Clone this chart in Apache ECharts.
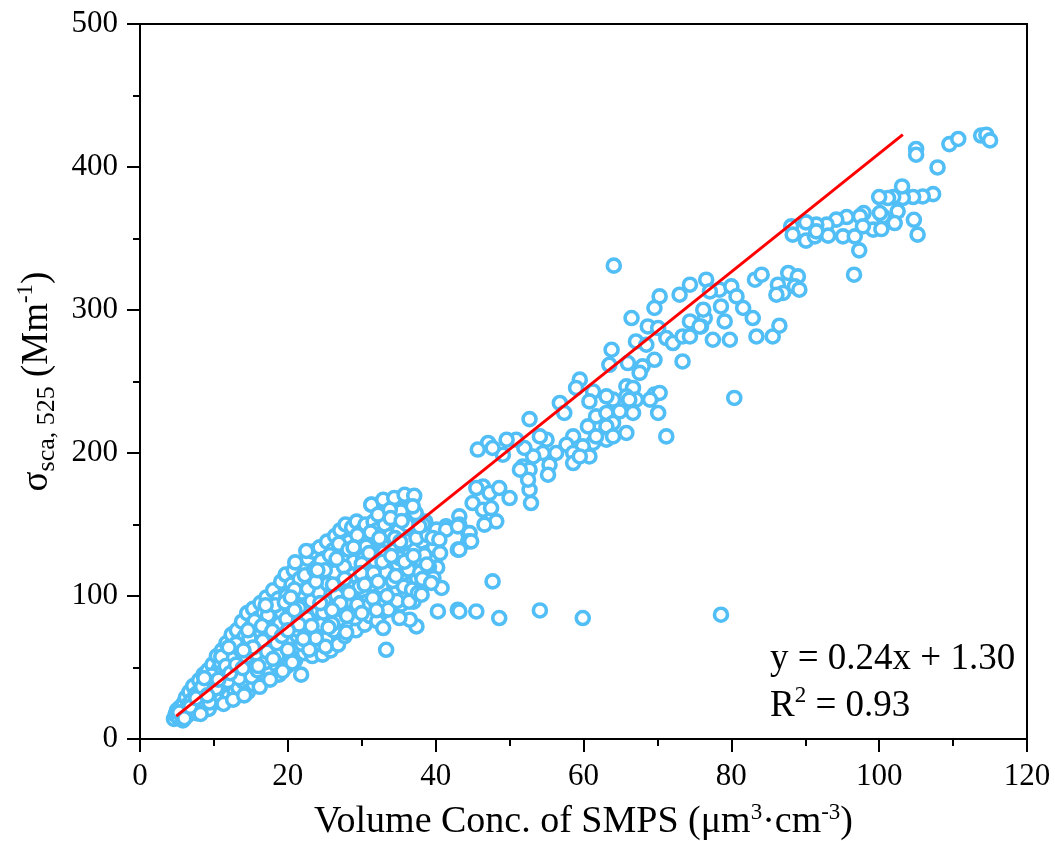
<!DOCTYPE html>
<html>
<head>
<meta charset="utf-8">
<script src="https://cdn.jsdelivr.net/npm/echarts@6/dist/echarts.min.js"></script>
<style>
html,body{margin:0;padding:0;background:#fff;}
#chart{width:1055px;height:841px;}
</style>
</head>
<body>
<div id="chart"></div>
<script>
// ---- data (x: Volume Conc. of SMPS, y: sigma_sca,525) ----
var clusterDense = [
[4.6,14],[4.8,17],[5.0,20],[5.2,15],[5.4,22],[5.6,18],[5.8,13],[5.9,25],[6.1,20],[6.3,16],[6.2,29],[6.5,24],[6.7,33],[6.9,19],[7.0,27],
[7.2,37],[7.3,22],[7.5,31],[7.7,18],[7.9,26],[8.0,41],[8.1,34],[8.3,22],[8.5,29],[8.6,45],[8.8,38],[8.9,25],[9.0,33],[9.2,48],[9.3,21],[9.5,40],[9.6,29],[9.8,52],[9.9,36],
[10.1,44],[10.2,26],[10.4,58],[10.5,32],[10.7,49],[10.8,38],[11.0,28],[11.1,62],[11.2,43],[11.4,54],[11.5,34],[11.7,67],[11.8,47],[12.0,30],[12.1,58],[12.2,39],[12.4,73],[12.5,51],[12.7,63],[12.8,33],[12.9,44],
[13.1,76],[13.2,56],[13.3,36],[13.5,68],[13.6,47],[13.8,82],[13.9,60],[14.0,40],[14.2,72],[14.3,52],[14.5,88],[14.6,33],[14.7,64],[14.9,45],[15.0,78],[15.2,57],[15.3,91],[15.4,38],[15.6,69],[15.7,50],
[15.9,84],[16.0,62],[16.1,42],[16.3,95],[16.4,74],[16.5,55],[16.7,88],[16.8,46],[17.0,66],[17.1,99],[17.2,80],[17.4,58],[17.5,48],[17.7,92],[17.8,70],[18.0,104],[18.1,62],[18.2,84],[18.4,52],[18.5,75],[18.7,98],[18.8,45],
[19.0,66],[19.1,110],[19.2,88],[19.4,56],[19.5,78],[19.7,115],[19.8,100],[19.9,51],[20.1,70],[20.2,92],[20.4,60],[20.5,108],[20.7,82],[20.8,118],[21.0,55],[21.1,97],[21.3,72],[21.4,64],[21.6,112],[21.7,86],
[22.0,122],[22.1,102],[22.2,60],[22.4,78],[22.5,94],[22.7,126],[22.8,68],[23.0,112],[23.1,86],[23.3,58],[23.4,131],[23.5,100],[23.7,74],[23.9,120],[24.0,64],[24.1,90],[24.3,134],[24.4,108],[24.6,80],[24.7,59],
[24.9,126],[25.0,96],[25.2,70],[25.3,138],[25.5,114],[25.6,86],[25.8,62],[25.9,104],[26.1,132],[26.2,76],[26.4,142],[26.5,94],[26.7,120],[26.8,66],[27.0,110],[27.1,146],[27.2,84],[27.4,128],[27.5,100],[27.7,72],
[27.8,150],[28.0,118],[28.1,92],[28.3,138],[28.4,80],[28.6,108],[28.7,148],[28.9,124],[29.0,98],[29.2,76],[29.3,152],[29.5,134],[29.6,114],[29.8,88],[29.9,145],[30.1,104],[30.2,126],[30.4,80],[30.5,150],[30.7,96],[30.8,140],
[31.0,118],[31.1,86],[31.3,164],[31.4,108],[31.6,152],[31.7,130],[31.9,94],[32.0,146],[32.2,120],[32.3,100],[32.5,158],[32.6,88],[32.8,136],[32.9,112],[33.1,150],[33.2,96],[33.4,126],[33.5,166],[33.7,106],[33.8,142],
[34.0,118],[34.1,92],[34.3,156],[34.4,132],[34.6,102],[34.7,168],[34.9,122],[35.0,146],[35.2,110],[35.3,94],[35.5,136],[35.6,160],[35.8,116],[35.9,100],[36.1,150],[36.2,128],[36.4,108],[36.6,140],[36.7,166],[36.9,120],
[37.0,96],[37.2,134],[37.3,158],[37.5,112],[37.7,146],[37.8,126],[38.0,104],[38.2,138],[38.4,118],[38.6,152],[38.8,130],[39.0,110],[39.2,144],[39.5,124],[39.8,134],[40.2,120],[40.6,130],
[31.3,163.8],[32.9,167.3],[34.4,168.5],[35.8,170.8],[37.1,170.1],[35.3,159.2],[32.2,156.9],[33.8,160.3],[36.9,162.7]
];
var clusterDenseExtra = [
[5.3,18.5],[6.0,14.5],[6.8,22.5],[7.6,28.5],[8.4,36.5],[8.2,17.5],[9.4,25.5],[9.7,44.5],[10.3,35.5],[10.9,53.5],[11.3,24.5],[11.9,40.5],[12.3,56.5],[12.6,27.5],[13.4,42.5],[13.7,63.5],[14.1,30.5],[14.4,57.5],[14.8,70.5],[15.1,43.5],
[15.5,82.5],[15.8,59.5],[16.2,36.5],[16.6,68.5],[16.9,53.5],[17.3,86.5],[17.6,41.5],[17.9,63.5],[18.3,93.5],[18.6,58.5],[18.9,80.5],[19.3,47.5],[19.6,95.5],[20.0,62.5],[20.3,86.5],[20.6,53.5],[20.9,104.5],[21.2,76.5],[21.5,91.5],[21.9,66.5],
[22.3,114.5],[22.6,84.5],[22.9,62.5],[23.2,96.5],[23.6,118.5],[23.8,70.5],[24.2,102.5],[24.5,124.5],[24.8,88.5],[25.1,64.5],[25.4,108.5],[25.7,128.5],[26.0,80.5],[26.3,116.5],[26.6,100.5],[26.9,136.5],[27.3,90.5],[27.6,120.5],[27.9,74.5],[28.2,132.5],
[28.5,96.5],[28.8,114.5],[29.1,84.5],[29.4,142.5],[29.7,106.5],[30.0,122.5],[30.3,92.5],[30.6,134.5],[30.9,112.5],[31.2,144.5],[31.5,98.5],[31.8,124.5],[32.1,82.5],[32.4,140.5],[32.7,106.5],[33.0,130.5],[33.3,116.5],[33.6,90.5],[33.9,154.5],[34.2,110.5],
[34.5,140.5],[34.8,96.5],[35.1,126.5],[35.4,152.5],[35.7,106.5],[36.0,138.5],[36.3,118.5],[36.8,104.5],[37.4,140.5],[37.9,116.5],[38.5,128.5],[39.1,120.5],[39.7,112.5],[38.9,142.5],[22.5,131.5],[21.0,123.5],[17.0,93.5],[13.0,66.5],[11.0,57.5],[8.7,42.5]
];
var clusterDenseFill = [
[9.1,30.5],[10.6,41.5],[11.6,51],[12.2,46],[13.0,52],[13.9,49.5],[14.6,76],[15.3,64],[15.9,48],[16.5,79],[17.2,61],[17.9,75.5],[18.5,67],[19.2,72],[19.8,84],[20.4,99],[20.9,90],[21.5,80],[22.1,70],[22.7,105],
[23.2,79],[23.8,110],[24.4,95],[25.0,118],[25.5,78],[26.1,108],[26.6,126],[27.1,95],[27.7,112],[28.3,102],[28.9,134],[29.4,94],[29.9,116],[30.4,108],[31.0,130],[31.6,116],[32.2,110],[32.8,124],[33.4,100],[34.0,128],
[34.6,114],[35.2,138],[35.8,124],[36.4,96],[37.0,128],[37.6,102],[38.2,112],[38.8,122],[24.0,118],[26.0,90],[28.0,86],[30.0,88],[32.0,90],[20.0,76],[18.0,56],[16.0,51],[14.0,62],[12.0,64]
];
var clusterMid = [
[59.5,251.3],[59.0,245.5],[61.3,243],[60.8,236.1],[56.8,235],[57.4,228],[52.7,223.7],
[60.6,218.6],[61.7,225.6],[61.3,207],[59.9,204.6],[58.6,211.6],[57.7,205.8],[58.6,200],[56.3,200],[55.0,209.3],[54.1,211.6],[54.5,200],[53.2,197.6],[51.8,190.6],[52.7,188.3],[55.4,191.8],[55.2,184.8],[58.6,193],[60.8,197.6],[59.5,197.6],[52.7,174.3],[52.9,165],[52.5,181.3],[51.4,188.3],[52.0,203.5],[50.9,209.3],[49.6,209.3],[49.1,198.8],[47.1,207],[45.7,202.4],[47.7,203.5],
[46.4,176.6],[47.3,172],[48.6,175.5],[50.0,168.5],[45.0,165],[46.4,160.3],[47.5,161.5],[48.2,152.2],[43.2,155.7],[41.4,148.7],[46.6,149.9],[45.5,175.5],
[40.1,146.4],[41.4,146.4],[43.2,149.9],[44.4,144.1],[43.0,132.4],[38.3,149.9],[39.6,140.6],[44.6,144],[44.4,138.2],[40.5,139.4],[37.8,148.7],[43.0,148.7]
];
var clusterUpperMid = [
[76.6,321.2],[78.4,314.2],[80.0,316.5],[80.7,309.5],[78.6,302.5],[81.6,301.4],[82.9,294.4],[79.1,292],[76.4,294.4],[75.9,288.5],[77.5,279.2],[79.8,279.2],[83.4,281.5],[85.6,281.5],[86.5,289],[83.2,321.2],[84.1,324.7],[86.3,317.7],[87.7,325.9],[89.0,323.5],[88.6,316.5],[89.2,314.2],[87.0,311.9],[86.1,310.7],[80.4,238.5],
[64.1,331],[66.5,294.4],[70.3,309.5],[69.6,301.4],[73.0,310.7],[74.4,317.7],[77.1,313],
[68.7,288.5],[70.1,287.4],[67.1,278],[68.5,275.7],[71.2,280.4],[72.1,276.9],[73.4,281.5],[74.4,292],[74.4,281.5],[75.7,288.5],[76.2,300.2],[63.8,272.2],[63.5,261.7],[66.0,262.9],[68.0,260.6],[69.6,265.2],[67.6,256],[73.4,264],
[65.8,246.6],[66.7,245.5],[64.0,237.3],[65.8,239.6],[67.1,237.3],[63.1,228],[64.9,229.1],[66.7,228],[69.6,240.8],[70.3,242],[70.1,228],[69.0,237.3],[64.0,221],[65.8,214],[63.1,209.3],[71.2,211.6],
[63.1,239.6],[66.2,237.3],[63.1,218.6],[61.7,211.6],[64.0,211.6]
];
var clusterHigh = [
[105.0,412.6],[105.0,408.6],[107.9,399.7],[109.5,416],[110.7,419.6],[113.8,422],[114.5,422.6],[115.0,418.6],[107.3,381],[105.9,379.4],[104.6,379],[103.2,378.3],[103.1,386.4],[101.9,379],[101.2,378.3],[100,379],[104.7,363.1],[105.2,352.7],[102.5,369],[102.1,360.8],[100.5,365.5],[100.1,367.8],[97.9,367.8],[97.4,365.5],[95.6,365],[94.2,363.2],[92.9,359.7],[91.5,359.7],[90.1,361.3],[88.1,358.5],[88.3,352.7],[90.1,348.5],[91.3,351.5],[93.1,352],[95.1,351.5],[96.7,351.5],[99.2,356.2],[100.3,356.6],[97.3,341.7],[97.8,358.5],[96.6,324.7],[91.5,355]
];
var outliers = [
[47.7,110.2],[40.3,89.2],[43.0,90.4],[43.2,89.2],[45.5,89.2],[48.6,84.6],[54.1,89.9],[59.9,84.6],[78.6,86.9],[33.3,62.4],[37.4,78.7],[36.5,83.4],[35.1,84.6],[32.9,77.6],[43.2,132.4],[44.8,138.2],[40.8,105.6],[39.4,109.1],[38.1,100.9],[21.8,45]
];
var fitLine = [[4.9,16],[103.2,422.6]];
var equationText = 'y = 0.24x + 1.30';
var r2Text = 'R{sup|2} = 0.93';

var allPoints = clusterDense.concat(clusterDenseExtra, clusterDenseFill, clusterMid, clusterUpperMid, clusterHigh, outliers);

var FONT = '"Liberation Serif", "Times New Roman", serif';
var chart = echarts.init(document.getElementById('chart'), null, {renderer:'canvas'});
var axisCommon = {
  axisLine:{show:true, onZero:false, lineStyle:{color:'#000', width:2}},
  axisTick:{show:true, inside:false, length:13, lineStyle:{color:'#000', width:2}},
  minorTick:{show:true, splitNumber:2, length:7, lineStyle:{color:'#000', width:2}},
  splitLine:{show:false},
  axisLabel:{color:'#000', fontFamily:FONT, fontSize:31}
};
chart.setOption({
  backgroundColor:'#fff',
  animation:false,
  grid:{left:140, top:24, width:887, height:715, show:true, borderColor:'#000', borderWidth:2,
        backgroundColor:'transparent', containLabel:false, outerBoundsMode:'none'},
  xAxis: Object.assign({}, axisCommon, {
    type:'value', min:0, max:120, interval:20,
    axisLabel:Object.assign({}, axisCommon.axisLabel, {margin:22}),
    name:'Volume Conc. of SMPS (μm{sup|3}·cm{sup|-3})',
    nameLocation:'middle', nameGap:62,
    nameTextStyle:{color:'#000', fontFamily:FONT, fontSize:38, lineHeight:42,
      rich:{sup:{fontFamily:FONT, fontSize:23, color:'#000', verticalAlign:'top', lineHeight:42}}}
  }),
  yAxis: Object.assign({}, axisCommon, {
    type:'value', min:0, max:500, interval:100,
    axisLabel:Object.assign({}, axisCommon.axisLabel, {margin:22}),
    name:'σ{sub|sca, 525} (Mm{sup|-1})',
    nameLocation:'middle', nameGap:78,
    nameTextStyle:{color:'#000', fontFamily:FONT, fontSize:37, lineHeight:46,
      rich:{sub:{fontFamily:FONT, fontSize:26, color:'#000', verticalAlign:'bottom', lineHeight:46},
            sup:{fontFamily:FONT, fontSize:23, color:'#000', verticalAlign:'top', lineHeight:46}}}
  }),
  series:[
    {type:'scatter', data:allPoints, symbol:'circle', symbolSize:13,
     itemStyle:{color:'#ffffff', borderColor:'#52BEF6', borderWidth:3.6, opacity:1},
     emphasis:{disabled:true}, z:2},
    {type:'line', data:fitLine, showSymbol:false, symbol:'none',
     lineStyle:{color:'#FF0000', width:3}, z:5, silent:true}
  ],
  graphic:[
    {type:'text', left:770, top:641, z:10, style:{text:equationText, fill:'#000', font:'37px ' + FONT}},
    {type:'text', left:770, top:684, z:10, style:{text:r2Text, fill:'#000', font:'37px ' + FONT, lineHeight:44,
      rich:{sup:{fontFamily:FONT, fontSize:23, fill:'#000', verticalAlign:'top', lineHeight:44}}}}
  ]
});
</script>
</body>
</html>
